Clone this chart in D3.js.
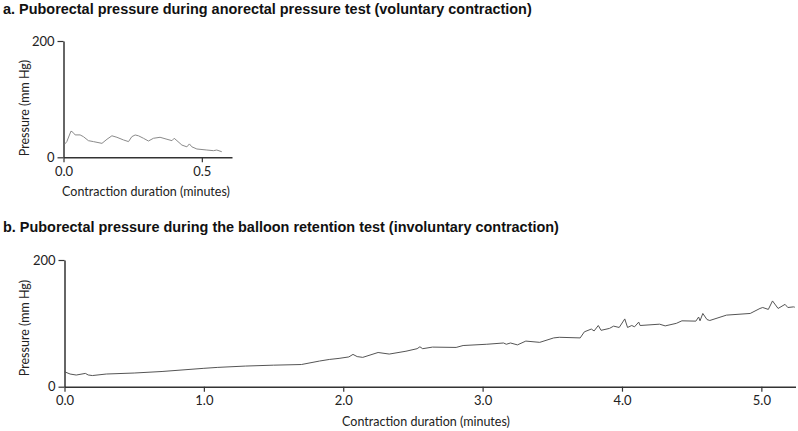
<!DOCTYPE html>
<html><head><meta charset="utf-8">
<script src="https://cdn.jsdelivr.net/npm/d3@7"></script>
<style>body{margin:0;background:#fff;} svg{display:block;}</style>
</head><body>
<svg id="c" width="798" height="431"></svg>
<script>
// Panel a: voluntary contraction (minutes, mm Hg)
const aTime = [0.005,0.012,0.027,0.034,0.042,0.06,0.072,0.09,0.108,0.139,0.157,0.175,0.193,0.217,0.235,0.247,0.259,0.271,0.289,0.307,0.325,0.349,0.374,0.392,0.40,0.41,0.428,0.446,0.455,0.464,0.482,0.518,0.542,0.554,0.572];
const aPressure = [23,27,45,43,38.5,38.5,35.5,28.6,27,24,31,37,34.4,29.8,27,35.5,38.4,37,32.7,28,32.7,34.4,31,28.6,32.7,28.6,21,18,23,18,14.3,12.5,11.4,12.5,9.6];
// Panel b: involuntary contraction (minutes, mm Hg)
const bTime = [0,0.04,0.084,0.15,0.17,0.2,0.3,0.5,0.7,1.0,1.1,1.3,1.5,1.7,1.83,1.9,1.97,2.04,2.07,2.1,2.14,2.25,2.33,2.45,2.53,2.55,2.57,2.64,2.81,2.86,3.03,3.15,3.17,3.2,3.25,3.31,3.41,3.51,3.55,3.70,3.73,3.78,3.80,3.83,3.85,3.91,3.94,3.98,4.02,4.04,4.07,4.09,4.12,4.13,4.27,4.31,4.39,4.43,4.53,4.55,4.56,4.58,4.61,4.63,4.75,4.92,4.99,5.01,5.05,5.08,5.12,5.17,5.19,5.23,5.24];
const bPressure = [23.6,20,18.4,21,18.5,17.6,20,21.6,24,29,30.5,32.6,34,35,40.5,43,44.7,47,51,47.5,46.3,54,51.5,56,60,63,60,62.5,62,65,67,69,67,69,66,72,70,77,78,77,86.6,91,88,96.6,89,92,95.6,93.5,107,93.5,96.6,94.5,102,96.6,98.7,96,100,104,103.5,110,104,115.6,106,104.5,113,115.6,123.5,125,122,135.4,123.5,130,125,126,125.5];
const yTicks = [0, 200];
const aXTicks = [0, 0.5];
const bXTicks = [0, 1, 2, 3, 4, 5];
const titleA = "a. Puborectal pressure during anorectal pressure test (voluntary contraction)";
const titleB = "b. Puborectal pressure during the balloon retention test (involuntary contraction)";
const yLabel = "Pressure (mm Hg)";
const xLabel = "Contraction duration (minutes)";

const svg = d3.select("#c");
const tickFont = "Lato, 'Open Sans', sans-serif";

function panel(cfg){
  const g = svg.append("g");
  const x = d3.scaleLinear().domain(cfg.xDomain).range([cfg.x0, cfg.x1]);
  const y = d3.scaleLinear().domain([0,200]).range([cfg.y0, cfg.y1]);
  g.append("text").attr("x", 3).attr("y", cfg.titleY)
    .attr("font-family","'Liberation Sans', Arial, sans-serif").attr("font-weight","bold")
    .attr("font-size", 14.45).attr("fill","#111").text(cfg.title);
  const xa = g.append("g").attr("transform", `translate(0,${cfg.y0})`)
    .call(d3.axisBottom(x).tickValues(cfg.xTicks).tickFormat(d3.format(".1f")).tickSize(5).tickSizeOuter(0).tickPadding(4));
  const ya = g.append("g").attr("transform", `translate(${cfg.x0},0)`)
    .call(d3.axisLeft(y).tickValues(yTicks).tickSize(6).tickSizeOuter(0).tickPadding(3));
  [xa, ya].forEach(a => {
    a.select(".domain").attr("stroke","#333").attr("stroke-width",1.5);
    a.selectAll(".tick line").attr("stroke","#333").attr("stroke-width",1.2);
    a.selectAll(".tick text").attr("font-family", tickFont).attr("font-size", 13).attr("fill","#222");
  });
  const line = d3.line().x((d,i)=>x(cfg.t[i])).y(d=>y(d)).curve(d3.curveLinear);
  g.append("path").datum(cfg.v).attr("d", line).attr("fill","none")
    .attr("stroke", cfg.color).attr("stroke-width", 1).attr("stroke-linejoin","round");
  g.append("text").attr("transform", `translate(${cfg.yLabX},${cfg.yLabY}) rotate(-90)`)
    .attr("text-anchor","middle").attr("font-family", tickFont).attr("font-size", 12.5).attr("fill","#222").text(yLabel);
  g.append("text").attr("x", cfg.xLabX).attr("y", cfg.xLabY).attr("text-anchor","middle")
    .attr("font-family", tickFont).attr("font-size", 12.5).attr("fill","#222").text(xLabel);
}

panel({title:titleA, titleY:14, xDomain:[0,0.609], x0:63.5, x1:232, y0:157.3, y1:41,
  xTicks:aXTicks, t:aTime, v:aPressure, color:"#8a8a8a", yLabX:29, yLabY:108, xLabX:146, xLabY:196});
panel({title:titleB, titleY:232, xDomain:[0,5.245], x0:64.5, x1:795.5, y0:386.7, y1:260,
  xTicks:bXTicks, t:bTime, v:bPressure, color:"#555", yLabX:29, yLabY:328, xLabX:426, xLabY:426});
</script>
</body></html>
